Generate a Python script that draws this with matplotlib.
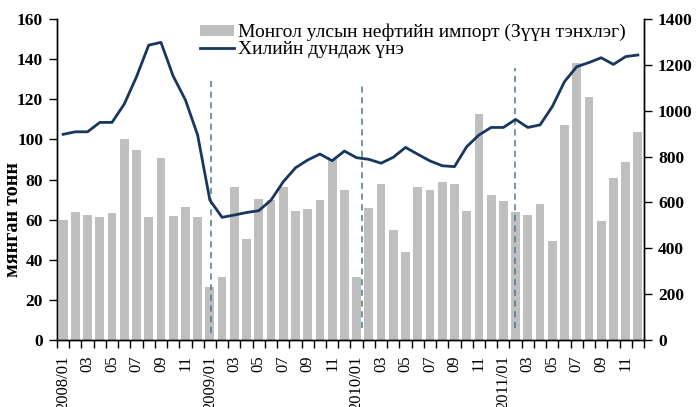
import matplotlib
matplotlib.use("Agg")
import matplotlib.pyplot as plt

# monthly data 2008/01 .. 2011/12
years = [2008, 2009, 2010, 2011]
imports = [59.8, 63.8, 62.3, 61.2, 63.2, 100.0, 94.6, 61.2, 90.7, 61.8, 66.3, 61.2,
           26.3, 31.6, 76.1, 50.5, 70.3, 69.8, 76.1, 64.5, 65.2, 69.8, 90.2, 74.8,
           31.6, 65.7, 77.8, 54.8, 44.0, 76.1, 74.8, 78.8, 77.8, 64.5, 112.5, 72.3,
           69.1, 64.0, 62.3, 67.8, 49.5, 107.2, 138.2, 121.0, 59.3, 80.9, 88.7, 103.9]
prices = [897, 908, 908, 949, 949, 1029, 1148, 1286, 1298, 1151, 1047, 894,
          610, 535, 545, 556, 564, 610, 690, 751, 785, 811, 782, 824,
          795, 788, 771, 797, 840, 810, 781, 760, 756, 843, 894, 927,
          927, 962, 927, 938, 1018, 1127, 1192, 1210, 1231, 1202, 1236, 1243]

# year-separator dashed lines (category position, left-axis extent)
sep_x = [12.1, 24.45, 36.95]
sep_lo = [3.5, 6.0, 6.0]
sep_hi = [129.0, 128.0, 135.5]

bar_label = "Монгол улсын нефтийн импорт (Зүүн тэнхлэг)"
line_label = "Хилийн дундаж үнэ"
ylabel = "мянган тонн"

plt.rcParams["font.family"] = ["Liberation Serif", "DejaVu Serif"]

n = len(imports)
x = list(range(n))
tick_labels = []
for i in range(0, n, 2):
    m = i % 12 + 1
    tick_labels.append(f"{years[i // 12]}/01" if m == 1 else f"{m:02d}")

fig = plt.figure(figsize=(6.97, 4.07), dpi=100)
ax = fig.add_axes([57 / 697, 1 - 340 / 407, 587 / 697, 321 / 407])
ax2 = ax.twinx()

bars = ax.bar(x, imports, width=0.72, color="#BFBFBF", label=bar_label, zorder=2)
ax.vlines(sep_x, sep_lo, sep_hi, colors="#4A7A8A", linestyles=(0, (4, 3)), linewidth=1.1, zorder=3)
line, = ax2.plot(x, prices, color="#17375E", linewidth=2.0, label=line_label)

ax.set_xlim(-0.5, n - 0.5)
ax.set_ylim(0, 160)
ax2.set_ylim(0, 1400)
ax.set_yticks(range(0, 161, 20))
ax2.set_yticks(range(0, 1401, 200))

ax.set_xticks([i - 0.5 for i in range(n + 1)])
ax.set_xticklabels([])
ax.set_xticks(list(range(0, n, 2)), minor=True)
ax.set_xticklabels(tick_labels, minor=True, rotation=90, fontsize=12)
ax.tick_params(axis="x", which="major", direction="out", length=6, width=1)
ax.tick_params(axis="x", which="minor", length=0, pad=11)

ax.tick_params(axis="y", direction="out", length=6, width=1, labelsize=12.5, pad=4)
ax2.tick_params(axis="y", direction="out", length=6, width=1, labelsize=12.5, pad=4)
for lab in ax.get_yticklabels() + ax2.get_yticklabels():
    lab.set_fontweight("bold")

for a in (ax, ax2):
    a.spines["top"].set_visible(False)
    for s in ("left", "right", "bottom"):
        a.spines[s].set_linewidth(1.0)
        a.spines[s].set_color("black")

ax.set_ylabel(ylabel, fontsize=14.5, fontweight="bold")
ax.yaxis.set_label_coords(-0.058, 0.374)

ax2.legend([bars, line], [bar_label, line_label], loc="upper left",
           bbox_to_anchor=(0.2436, 0.985), frameon=False, fontsize=14,
           borderaxespad=0, borderpad=0, handlelength=1.75, handletextpad=0.2,
           labelspacing=0.0, handleheight=0.55)

fig.savefig("out.png", dpi=100)
